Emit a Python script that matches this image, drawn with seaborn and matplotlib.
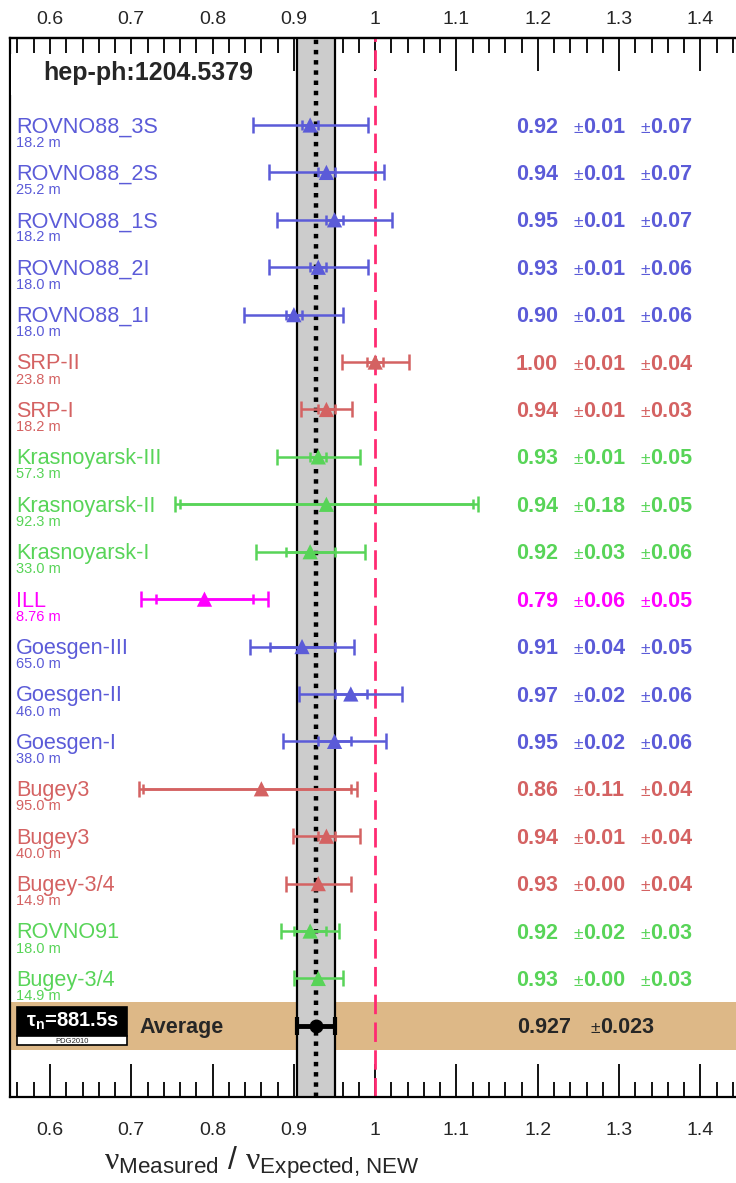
import numpy as np
import pandas as pd
import matplotlib
matplotlib.use("Agg")
import matplotlib.pyplot as plt
import matplotlib.patches as mpatches
from matplotlib.ticker import MultipleLocator, FuncFormatter
import seaborn as sns

# ---- data -------------------------------------------------------------
experiments = ["ROVNO88_3S", "ROVNO88_2S", "ROVNO88_1S", "ROVNO88_2I", "ROVNO88_1I",
               "SRP-II", "SRP-I", "Krasnoyarsk-III", "Krasnoyarsk-II", "Krasnoyarsk-I",
               "ILL", "Goesgen-III", "Goesgen-II", "Goesgen-I", "Bugey3", "Bugey3",
               "Bugey-3/4", "ROVNO91", "Bugey-3/4"]
distances = ["18.2 m", "25.2 m", "18.2 m", "18.0 m", "18.0 m",
             "23.8 m", "18.2 m", "57.3 m", "92.3 m", "33.0 m",
             "8.76 m", "65.0 m", "46.0 m", "38.0 m", "95.0 m", "40.0 m",
             "14.9 m", "18.0 m", "14.9 m"]
groups = ["rovno88"] * 5 + ["srp"] * 2 + ["krasnoyarsk"] * 3 + ["ill"] + \
         ["goesgen"] * 3 + ["bugey"] * 3 + ["green"] * 2
ratio = [0.92, 0.94, 0.95, 0.93, 0.90, 1.00, 0.94, 0.93, 0.94, 0.92,
         0.79, 0.91, 0.97, 0.95, 0.86, 0.94, 0.93, 0.92, 0.93]
stat_err = [0.01, 0.01, 0.01, 0.01, 0.01, 0.01, 0.01, 0.01, 0.18, 0.03,
            0.06, 0.04, 0.02, 0.02, 0.11, 0.01, 0.00, 0.02, 0.00]
# the Bugey3 (95 m) statistical interval is asymmetric on the low side
stat_err_low = [0.01, 0.01, 0.01, 0.01, 0.01, 0.01, 0.01, 0.01, 0.18, 0.03,
                0.06, 0.04, 0.02, 0.02, 0.145, 0.01, 0.00, 0.02, 0.00]
syst_err = [0.07, 0.07, 0.07, 0.06, 0.06, 0.04, 0.03, 0.05, 0.05, 0.06,
            0.05, 0.05, 0.06, 0.06, 0.04, 0.04, 0.04, 0.03, 0.03]

avg_value = 0.927
avg_err = 0.023

palette = {"rovno88": "#5b5bd8", "goesgen": "#5b5bd8",
           "srp": "#d46262", "bugey": "#d46262",
           "krasnoyarsk": "#58d458", "green": "#58d458",
           "ill": "#ff00ff"}

x_major = [0.6, 0.7, 0.8, 0.9, 1.0, 1.1, 1.2, 1.3, 1.4]

df = pd.DataFrame({"experiment": experiments, "distance": distances, "group": groups,
                   "ratio": ratio, "stat": stat_err, "stat_low": stat_err_low,
                   "syst": syst_err})
df["row"] = np.arange(len(df))
df["tot_low"] = np.sqrt(df["stat_low"] ** 2 + df["syst"] ** 2)
df["tot_high"] = np.sqrt(df["stat"] ** 2 + df["syst"] ** 2)
avg_row = len(df)

# ---- style ------------------------------------------------------------
sns.set_theme(style="white")
plt.rcParams["font.family"] = ["Liberation Sans", "DejaVu Sans"]
plt.rcParams["mathtext.fontset"] = "custom"
plt.rcParams["mathtext.rm"] = "Liberation Sans"
plt.rcParams["mathtext.it"] = "Liberation Serif"
plt.rcParams["mathtext.bf"] = "Liberation Sans:bold"

fig = plt.figure(figsize=(7.36, 11.83), dpi=100)
ax = fig.add_axes([10 / 736, 86 / 1183, 733.4 / 736, 1059 / 1183])
ax.set_xlim(0.5508, 1.4529)
ax.set_ylim(avg_row + 1.5, -1.835)

# average band and its uncertainty strip
ax.axhspan(avg_row - 0.5, avg_row + 0.5, color="#ddb887", lw=0, zorder=0)
ax.axvspan(avg_value - avg_err, avg_value + avg_err, color="#cccccc", lw=0, zorder=1)
for xv in (avg_value - avg_err, avg_value + avg_err):
    ax.axvline(xv, color="black", lw=1.6, zorder=2)
ax.axvline(avg_value, color="black", lw=3.2, ls=(0, (1, 1.3)), zorder=2,
           dash_capstyle="butt")
ax.axvline(1.0, color="#ff2a72", lw=2.0, ls=(0, (7, 3)), zorder=2)

# per-experiment error bars: outer = total, inner caps = statistical
for _, r in df.iterrows():
    c = palette[r["group"]]
    ax.errorbar(r["ratio"], r["row"], xerr=[[r["tot_low"]], [r["tot_high"]]],
                fmt="none", ecolor=c, elinewidth=1.8, capsize=5.5, capthick=1.8,
                zorder=3)
    if r["stat"] > 0:
        ax.errorbar(r["ratio"], r["row"], xerr=[[r["stat_low"]], [r["stat"]]],
                    fmt="none", ecolor=c, elinewidth=1.8, capsize=3.5, capthick=1.8,
                    zorder=3)

sns.scatterplot(data=df, x="ratio", y="row", hue="group", palette=palette,
                marker="^", s=120, linewidth=0, legend=False, ax=ax, zorder=4)

ax.errorbar(avg_value, avg_row, xerr=avg_err, fmt="o", color="black", ms=9,
            elinewidth=3.5, capsize=6.5, capthick=3, zorder=5)

# labels on each row (numbers share a baseline with their ± signs)
BASE = 0.16
for _, r in df.iterrows():
    c = palette[r["group"]]
    y = r["row"]
    ax.text(0.5584, y + 0.04, r["experiment"], color=c, fontsize=15.6,
            ha="left", va="center", zorder=6)
    ax.text(0.5584, y + 0.37, r["distance"], color=c, fontsize=10.5,
            ha="left", va="center", zorder=6)
    ax.text(1.1732, y + BASE, f"{r['ratio']:.2f}", color=c, fontsize=15.5,
            fontweight="bold", ha="left", va="baseline", zorder=6)
    ax.text(1.2440, y + BASE, "±", color=c, fontsize=12.5, ha="left",
            va="baseline", zorder=6)
    ax.text(1.2556, y + BASE, f"{r['stat']:.2f}", color=c, fontsize=15.5,
            fontweight="bold", ha="left", va="baseline", zorder=6)
    ax.text(1.3265, y + BASE, "±", color=c, fontsize=12.5, ha="left",
            va="baseline", zorder=6)
    ax.text(1.3381, y + BASE, f"{r['syst']:.2f}", color=c, fontsize=15.5,
            fontweight="bold", ha="left", va="baseline", zorder=6)

# average row annotations
ax.text(0.7095, avg_row + BASE, "Average", fontsize=15.5, fontweight="bold",
        ha="left", va="baseline", zorder=6)
ax.text(1.1744, avg_row + BASE, f"{avg_value:.3f}", fontsize=15.5, fontweight="bold",
        ha="left", va="baseline", zorder=6)
ax.text(1.2650, avg_row + BASE, "±", fontsize=12.5, ha="left", va="baseline", zorder=6)
ax.text(1.2765, avg_row + BASE, f"{avg_err:.3f}", fontsize=15.5, fontweight="bold",
        ha="left", va="baseline", zorder=6)

# neutron lifetime badge
ax.add_patch(mpatches.Rectangle((0.5594, avg_row - 0.39), 0.1353, 0.61,
                                facecolor="black", edgecolor="black", lw=1.2, zorder=6))
ax.add_patch(mpatches.Rectangle((0.5594, avg_row + 0.22), 0.1353, 0.19,
                                facecolor="white", edgecolor="black", lw=1.2, zorder=6))
ax.text(0.6270, avg_row - 0.09, r"$\mathregular{\tau_n}$=881.5s", color="white",
        fontsize=14.5, fontweight="bold", ha="center", va="center", zorder=7)
ax.text(0.6270, avg_row + 0.32, "PDG2010", fontsize=5.5, ha="center", va="center",
        zorder=7)

# reference tag
ax.add_patch(mpatches.Rectangle((0.5515, -1.50), 0.344, 0.87, facecolor="white",
                                edgecolor="none", zorder=5))
ax.text(0.5914, -1.10, "hep-ph:1204.5379", fontsize=18, fontweight="bold",
        ha="left", va="center", zorder=6)

# bottom axis: ticks and labels
fmt = FuncFormatter(lambda v, p: f"{v:g}")
ax.xaxis.set_major_locator(plt.FixedLocator(x_major))
ax.xaxis.set_minor_locator(MultipleLocator(0.02))
ax.xaxis.set_major_formatter(fmt)
ax.tick_params(axis="x", which="major", direction="in", length=24, width=1.3,
               top=False, bottom=True, labeltop=False, labelbottom=True,
               labelsize=14, pad=18, color="black")
ax.tick_params(axis="x", which="minor", direction="in", length=11, width=1.3,
               top=False, bottom=True, color="black")

# top axis mirrors the scale with its own label spacing
top = ax.secondary_xaxis("top")
top.xaxis.set_major_locator(plt.FixedLocator(x_major))
top.xaxis.set_minor_locator(MultipleLocator(0.02))
top.xaxis.set_major_formatter(fmt)
top.tick_params(axis="x", which="major", direction="in", length=24, width=1.3,
                labelsize=14, pad=7, color="black")
top.tick_params(axis="x", which="minor", direction="in", length=11, width=1.3,
                color="black")
top.spines["top"].set_linewidth(1.6)

ax.set_yticks([])
ax.set_xlabel("")
ax.set_ylabel("")
for side in ("left", "right", "top", "bottom"):
    ax.spines[side].set_visible(True)
    ax.spines[side].set_color("black")
    ax.spines[side].set_linewidth(1.6)

fig.text(262 / 736, 1 - 1163 / 1183,
         r"$\nu_{\mathrm{Measured}}$ / $\nu_{\mathrm{Expected,\!\;NEW}}$",
         fontsize=23, ha="center", va="center")

fig.savefig("out.png", dpi=100)
